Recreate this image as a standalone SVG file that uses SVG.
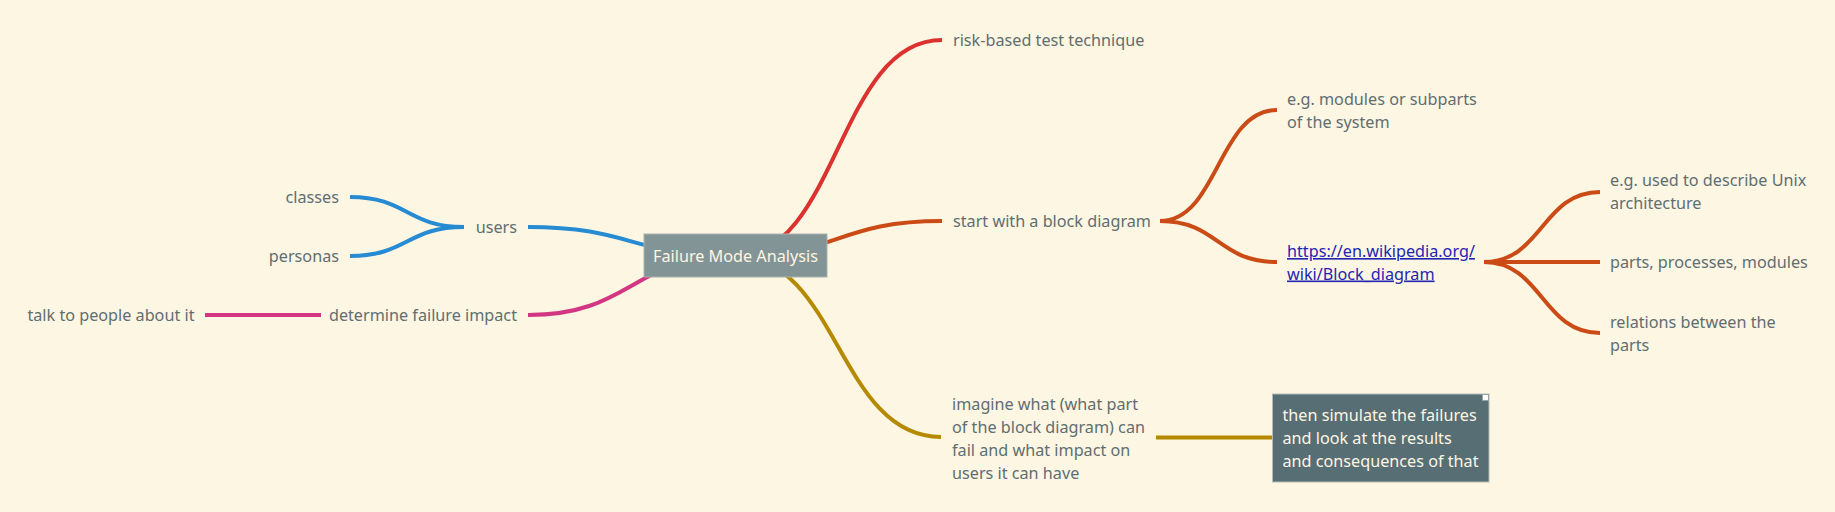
<svg xmlns="http://www.w3.org/2000/svg" width="1835" height="512" viewBox="0 0 1835 512">
<style>
.c{fill:none;stroke-width:4;stroke-linecap:butt}
.red{stroke:#dc322f}.org{stroke:#cb4b16}.blu{stroke:#268bd2}.mag{stroke:#d33682}.yel{stroke:#b58900}
.t{font-family:"Noto Sans","Open Sans",sans-serif;font-size:16.2px;fill:#5f6e71}
.e{text-anchor:end}
.w{fill:#fdf6e3}
.lnk{fill:#2424b4;text-decoration:underline}
</style>
<rect width="1835" height="512" fill="#fdf6e3"/>
<g id="connectors">
<path class="c red" d="M735,256 C838,256 838,40 942,40"/>
<path class="c org" d="M735,256 C838,256 838,221 942,221"/>
<path class="c yel" d="M735,256 C838,256 838,437 941,437"/>
<path class="c blu" d="M735,256 C632,256 632,227 528,227"/>
<path class="c mag" d="M735,256 C632,256 632,315 528,315"/>
<path class="c blu" d="M464,227 C407,227 407,197 350,197"/>
<path class="c blu" d="M464,227 C407,227 407,256 350,256"/>
<path class="c mag" d="M321,315 L205,315"/>
<path class="c org" d="M1160,221 C1218,221 1218,110 1277,110"/>
<path class="c org" d="M1160,221 C1218,221 1218,262 1277,262"/>
<path class="c org" d="M1484,262 C1542,262 1542,192 1600,192"/>
<path class="c org" d="M1484,262 L1600,262"/>
<path class="c org" d="M1484,262 C1542,262 1542,333 1600,333"/>
<path class="c yel" d="M1156,437.5 L1272,437.5"/>
</g>
<g id="root">
<rect x="644" y="234" width="183" height="43" fill="#839496" stroke="#a9b3ad" stroke-width="1"/>
<text class="t w" x="735.5" y="262" text-anchor="middle">Failure Mode Analysis</text>
</g>
<g id="n-risk"><text class="t" x="953" y="46">risk-based test technique</text></g>
<g id="n-start"><text class="t" x="953" y="227">start with a block diagram</text></g>
<g id="n-modules"><text class="t" x="1287" y="105">e.g. modules or subparts<tspan x="1287" dy="22.5">of the system</tspan></text></g>
<g id="n-link"><text class="t lnk" x="1287" y="257">https://en.wikipedia.org/<tspan x="1287" dy="22.5">wiki/Block_diagram</tspan></text></g>
<g id="n-unix"><text class="t" x="1610" y="186">e.g. used to describe Unix<tspan x="1610" dy="23">architecture</tspan></text></g>
<g id="n-parts"><text class="t" x="1610" y="268">parts, processes, modules</text></g>
<g id="n-relations"><text class="t" x="1610" y="328">relations between the<tspan x="1610" dy="22.5">parts</tspan></text></g>
<g id="n-imagine"><text class="t" x="952" y="410">imagine what (what part<tspan x="952" dy="23">of the block diagram) can</tspan><tspan x="952" dy="23">fail and what impact on</tspan><tspan x="952" dy="23">users it can have</tspan></text></g>
<g id="n-simulate">
<rect x="1272.5" y="394" width="216.5" height="88" fill="#586e75" stroke="#b5bcb4" stroke-width="1"/>
<rect x="1482.5" y="394.5" width="6" height="6" fill="#ffffff" stroke="#9aa4a4" stroke-width="1"/>
<text class="t w" x="1282.5" y="421">then simulate the failures<tspan x="1282.5" dy="23">and look at the results</tspan><tspan x="1282.5" dy="23">and consequences of that</tspan></text>
</g>
<g id="n-users"><text class="t e" x="517" y="232.5">users</text></g>
<g id="n-classes"><text class="t e" x="339" y="203">classes</text></g>
<g id="n-personas"><text class="t e" x="339" y="262">personas</text></g>
<g id="n-impact"><text class="t e" x="517" y="321">determine failure impact</text></g>
<g id="n-talk"><text class="t e" x="194.5" y="321">talk to people about it</text></g>
</svg>
